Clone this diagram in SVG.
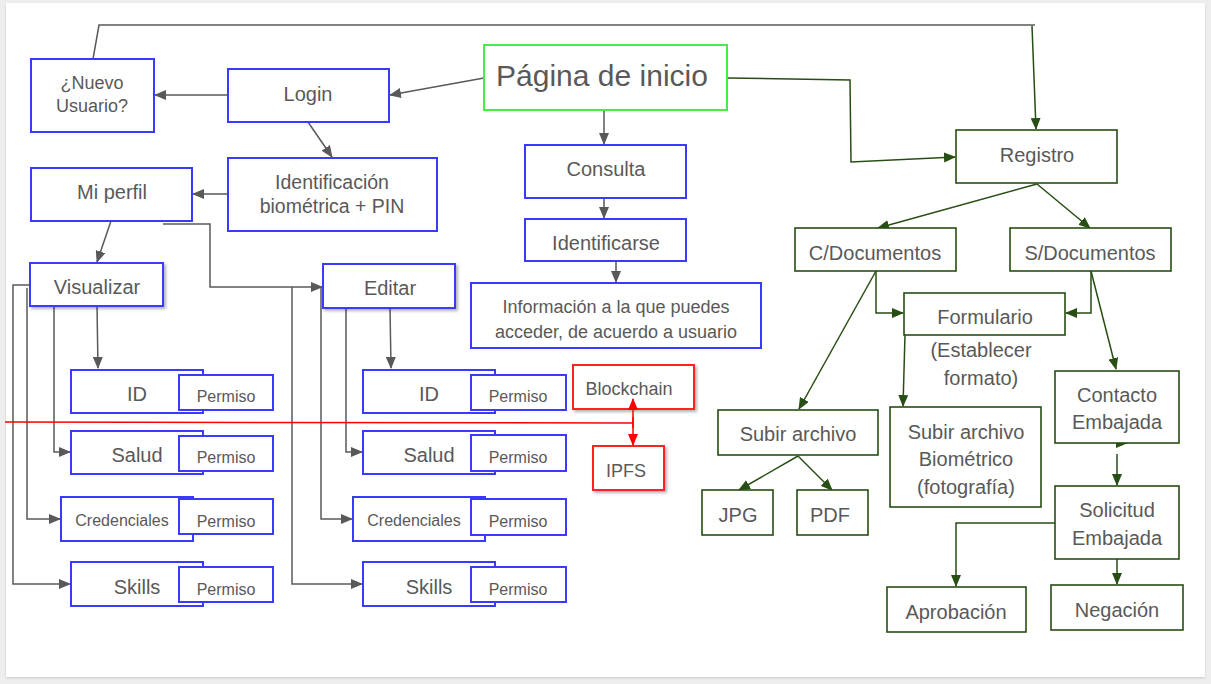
<svg xmlns="http://www.w3.org/2000/svg" width="1211" height="684" viewBox="0 0 1211 684">
<style>
text{font-family:"Liberation Sans",Arial,sans-serif;fill:#595959;text-anchor:middle}
.b{fill:#fff;stroke:#3a3aff;stroke-width:2}
.g{fill:#fff;stroke:#274e13;stroke-width:1.6}
.r{fill:#fff;stroke:#ff2020;stroke-width:2}
.c{fill:none;stroke:#595959;stroke-width:1.5}
.cg{fill:none;stroke:#274e13;stroke-width:1.5}
.cr{fill:none;stroke:#ff0000;stroke-width:1.5}
.t20{font-size:20px}
.t18{font-size:18px}
.t16{font-size:16px}
</style>
<defs>
<marker id="ag" markerUnits="userSpaceOnUse" markerWidth="12" markerHeight="10" refX="11" refY="5" orient="auto"><path d="M0,0 L12,5 L0,10 Z" fill="#595959"/></marker>
<marker id="agr" markerUnits="userSpaceOnUse" markerWidth="12" markerHeight="10" refX="11" refY="5" orient="auto"><path d="M0,0 L12,5 L0,10 Z" fill="#274e13"/></marker>
<marker id="ar" markerUnits="userSpaceOnUse" markerWidth="12" markerHeight="10" refX="11" refY="5" orient="auto"><path d="M0,0 L12,5 L0,10 Z" fill="#ff0000"/></marker>
<marker id="ars" markerUnits="userSpaceOnUse" markerWidth="12" markerHeight="10" refX="1" refY="5" orient="auto"><path d="M12,0 L0,5 L12,10 Z" fill="#ff0000"/></marker>
<filter id="sh" x="-10%" y="-10%" width="130%" height="140%"><feDropShadow dx="2" dy="2" stdDeviation="1.5" flood-color="#000" flood-opacity="0.3"/></filter>
</defs>
<rect x="0" y="0" width="1211" height="684" fill="#eeeeee"/>
<rect x="6" y="3" width="1199" height="674" fill="#ffffff" style="filter:drop-shadow(0 1px 1px rgba(0,0,0,0.15))"/>

<g id="connectors">
<path class="c" d="M93,59 L99,25 L1035,25"/>
<path class="cg" d="M1032,26 L1036,129" marker-end="url(#agr)"/>
<path class="c" d="M484,78 L390,95" marker-end="url(#ag)"/>
<path class="c" d="M228,95 L155,95" marker-end="url(#ag)"/>
<path class="c" d="M308,122 L332,157" marker-end="url(#ag)"/>
<path class="c" d="M228,194 L193,194" marker-end="url(#ag)"/>
<path class="c" d="M604,110 L604,144" marker-end="url(#ag)"/>
<path class="c" d="M604,198 L604,218" marker-end="url(#ag)"/>
<path class="c" d="M616,261 L616,282" marker-end="url(#ag)"/>
<path class="c" d="M111,221 L97,262" marker-end="url(#ag)"/>
<path class="c" d="M163,224 L210,224 L210,287 L322,287" marker-end="url(#ag)"/>
<path class="c" d="M97,306 L98,368" marker-end="url(#ag)"/>
<path class="c" d="M54,306 L54,452 L70,452" marker-end="url(#ag)"/>
<path class="c" d="M27,288 L27,519 L60,519" marker-end="url(#ag)"/>
<path class="c" d="M30,285 L13,285 L13,584 L70,584" marker-end="url(#ag)"/>
<path class="c" d="M292,287 L292,584 L362,584" marker-end="url(#ag)"/>
<path class="c" d="M321,287 L321,519 L352,519" marker-end="url(#ag)"/>
<path class="c" d="M346,308 L346,452 L362,452" marker-end="url(#ag)"/>
<path class="c" d="M390,308 L391,368" marker-end="url(#ag)"/>
<path class="cr" d="M5,422 L633,423 M633,417 L633,428"/>
<path class="cg" d="M727,78 L850,80 L851,162 L955,157" marker-end="url(#agr)"/>
<path class="cg" d="M1037,184 L878,228" marker-end="url(#agr)"/>
<path class="cg" d="M1037,184 L1090,228" marker-end="url(#agr)"/>
<path class="cg" d="M876,271 L876,313 L903,313" marker-end="url(#agr)"/>
<path class="cg" d="M1091,271 L1091,313 L1066,313" marker-end="url(#agr)"/>
<path class="cg" d="M876,271 L799,409" marker-end="url(#agr)"/>
<path class="cg" d="M1091,271 L1116,369" marker-end="url(#agr)"/>
<path class="cg" d="M905,335 L903,406" marker-end="url(#agr)"/>
<path class="cg" d="M798,456 L739,490" marker-end="url(#agr)"/>
<path class="cg" d="M798,456 L832,490" marker-end="url(#agr)"/>
<path class="cg" d="M1117,443 L1127,443" marker-end="url(#agr)"/>
<path class="cg" d="M1117,454 L1117,485" marker-end="url(#agr)"/>
<path class="cg" d="M1055,523 L956,523 L956,586" marker-end="url(#agr)"/>
<path class="cg" d="M1117,559 L1117,584" marker-end="url(#agr)"/>
</g>

<g id="nuevo-usuario"><rect class="b" x="31" y="59" width="123" height="73"/><text class="t18" x="92" y="89">¿Nuevo</text><text class="t18" x="92" y="112">Usuario?</text></g>
<g id="login"><rect class="b" x="228" y="69" width="161" height="53"/><text class="t20" x="308" y="101">Login</text></g>
<g id="pagina-inicio"><rect x="484" y="45" width="243" height="65" fill="#fff" stroke="#44ee44" stroke-width="2"/><text x="602" y="86" style="font-size:30px">Página de inicio</text></g>
<g id="identificacion"><rect class="b" x="228" y="158" width="209" height="73"/><text style="font-size:19.5px" x="332" y="189">Identificación</text><text style="font-size:19.5px" x="332" y="213">biométrica + PIN</text></g>
<g id="mi-perfil"><rect class="b" x="31" y="168" width="161" height="53"/><text class="t20" x="112" y="199">Mi perfil</text></g>
<g id="consulta"><rect class="b" x="525" y="145" width="161" height="53"/><text class="t20" x="606" y="176">Consulta</text></g>
<g id="identificarse"><rect class="b" x="525" y="219" width="161" height="42"/><text class="t20" x="606" y="250">Identificarse</text></g>
<g id="informacion"><rect class="b" x="471" y="283" width="290" height="65"/><text class="t18" x="616" y="313">Información a la que puedes</text><text class="t18" x="616" y="338">acceder, de acuerdo a usuario</text></g>
<g id="visualizar"><rect class="b" x="30" y="263" width="133" height="43" filter="url(#sh)"/><text class="t20" x="97" y="294">Visualizar</text></g>
<g id="editar"><rect class="b" x="323" y="264" width="132" height="44" filter="url(#sh)"/><text class="t20" x="390" y="295">Editar</text></g>

<g id="v-id"><rect class="b" x="71" y="370" width="132" height="43"/><rect class="b" x="179" y="375" width="94" height="35"/><text class="t20" x="137" y="401">ID</text><text class="t16" x="226" y="402">Permiso</text></g>
<g id="v-salud"><rect class="b" x="71" y="431" width="132" height="43"/><rect class="b" x="179" y="436" width="94" height="35"/><text class="t20" x="137" y="462">Salud</text><text class="t16" x="226" y="463">Permiso</text></g>
<g id="v-credenciales"><rect class="b" x="61" y="497" width="132" height="44"/><rect class="b" x="179" y="499" width="94" height="35"/><text class="t16" x="122" y="526">Credenciales</text><text class="t16" x="226" y="527">Permiso</text></g>
<g id="v-skills"><rect class="b" x="71" y="562" width="132" height="44"/><rect class="b" x="179" y="567" width="94" height="35"/><text class="t20" x="137" y="594">Skills</text><text class="t16" x="226" y="595">Permiso</text></g>

<g id="e-id"><rect class="b" x="363" y="370" width="132" height="43"/><rect class="b" x="471" y="375" width="95" height="35"/><text class="t20" x="429" y="401">ID</text><text class="t16" x="518" y="402">Permiso</text></g>
<g id="e-salud"><rect class="b" x="363" y="431" width="132" height="43"/><rect class="b" x="471" y="435" width="95" height="36"/><text class="t20" x="429" y="462">Salud</text><text class="t16" x="518" y="463">Permiso</text></g>
<g id="e-credenciales"><rect class="b" x="353" y="497" width="132" height="44"/><rect class="b" x="471" y="499" width="95" height="36"/><text class="t16" x="414" y="526">Credenciales</text><text class="t16" x="518" y="527">Permiso</text></g>
<g id="e-skills"><rect class="b" x="363" y="562" width="132" height="44"/><rect class="b" x="471" y="567" width="95" height="35"/><text class="t20" x="429" y="594">Skills</text><text class="t16" x="518" y="595">Permiso</text></g>

<g id="blockchain"><rect class="r" x="573" y="365" width="121" height="44" filter="url(#sh)"/><text class="t18" x="629" y="395">Blockchain</text></g>
<g id="ipfs"><rect class="r" x="593" y="446" width="71" height="44" filter="url(#sh)"/><text class="t18" x="626" y="477">IPFS</text></g>
<g id="connector-blockchain-ipfs"><path class="cr" d="M633,399 L633,445" marker-start="url(#ars)" marker-end="url(#ar)"/></g>

<g id="registro"><rect class="g" x="956" y="130" width="161" height="53"/><text class="t20" x="1037" y="162">Registro</text></g>
<g id="c-documentos"><rect class="g" x="795" y="228" width="161" height="43"/><text class="t20" x="875" y="260">C/Documentos</text></g>
<g id="s-documentos"><rect class="g" x="1010" y="228" width="161" height="43"/><text class="t20" x="1090" y="260">S/Documentos</text></g>
<g id="formulario"><rect class="g" x="904" y="293" width="161" height="42"/><text class="t20" x="985" y="324">Formulario</text><text class="t20" x="981" y="357">(Establecer</text><text class="t20" x="981" y="385">formato)</text></g>
<g id="contacto-embajada"><rect class="g" x="1055" y="371" width="124" height="72"/><text class="t20" x="1117" y="402">Contacto</text><text class="t20" x="1117" y="429">Embajada</text></g>
<g id="subir-archivo"><rect class="g" x="718" y="410" width="160" height="45"/><text class="t20" x="798" y="441">Subir archivo</text></g>
<g id="subir-biometrico"><rect class="g" x="890" y="407" width="151" height="100"/><text class="t20" x="966" y="439">Subir archivo</text><text class="t20" x="966" y="466">Biométrico</text><text class="t20" x="966" y="494">(fotografía)</text></g>
<g id="jpg"><rect class="g" x="702" y="490" width="71" height="45"/><text class="t20" x="738" y="522">JPG</text></g>
<g id="pdf"><rect class="g" x="797" y="490" width="71" height="45"/><text class="t20" x="830" y="522">PDF</text></g>
<g id="solicitud-embajada"><rect class="g" x="1055" y="486" width="124" height="73"/><text class="t20" x="1117" y="517">Solicitud</text><text class="t20" x="1117" y="545">Embajada</text></g>
<g id="aprobacion"><rect class="g" x="887" y="587" width="139" height="45"/><text class="t20" x="956" y="619">Aprobación</text></g>
<g id="negacion"><rect class="g" x="1051" y="585" width="132" height="45"/><text class="t20" x="1117" y="617">Negación</text></g>
</svg>
